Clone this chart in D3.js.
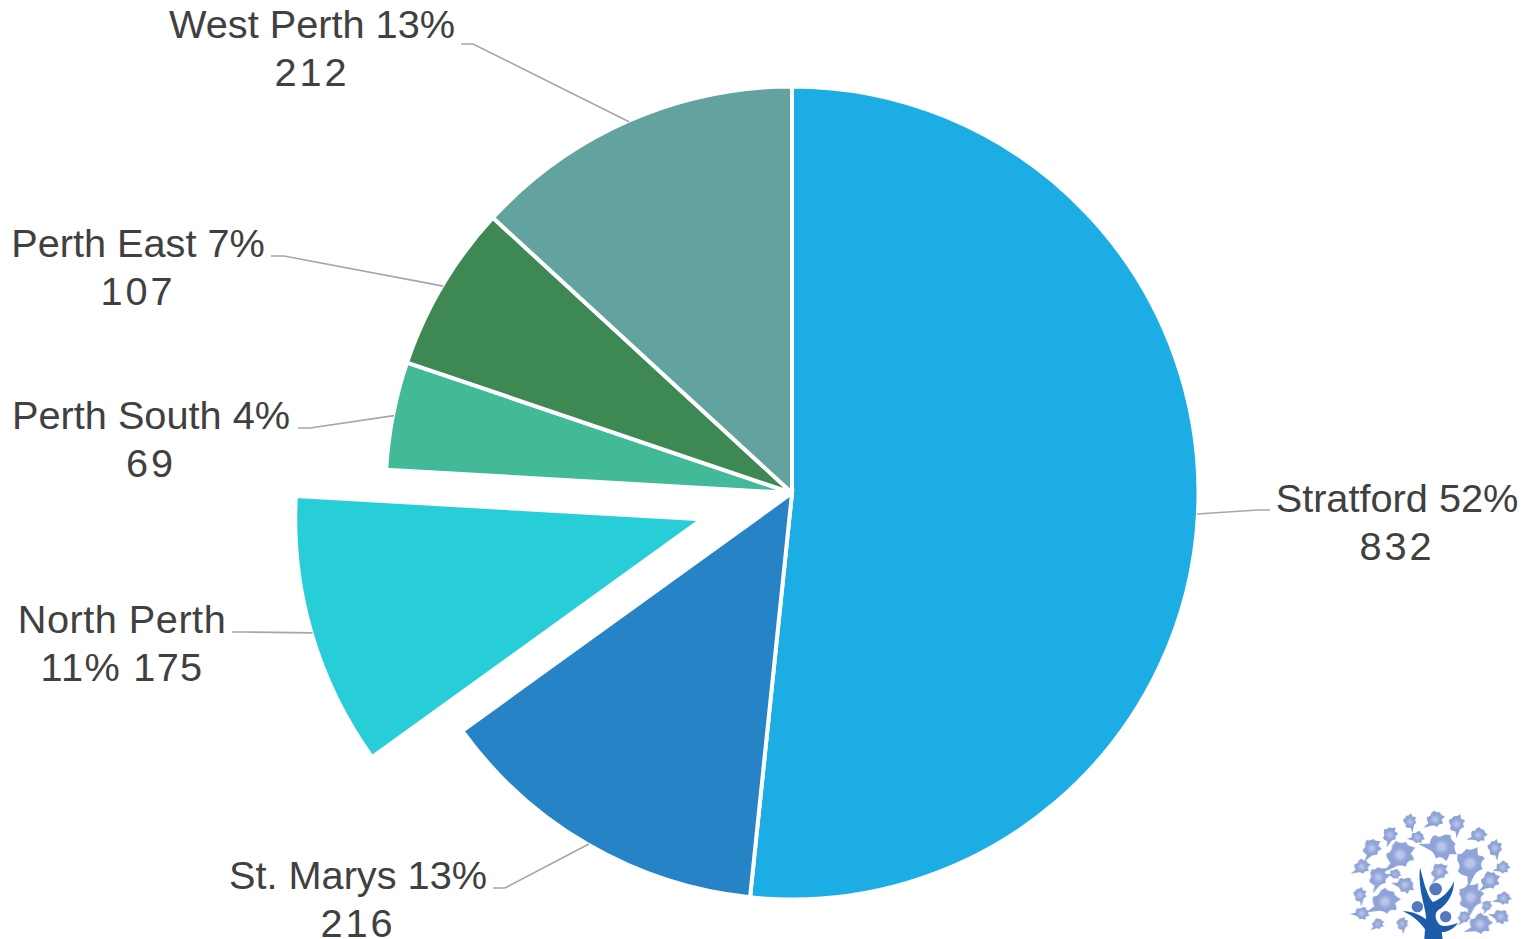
<!DOCTYPE html>
<html>
<head>
<meta charset="utf-8">
<script src="https://cdn.jsdelivr.net/npm/d3@7/dist/d3.min.js"></script>
<style>
html,body{margin:0;padding:0;background:#fff;overflow:hidden}
svg{display:block}
text{font-family:"Liberation Sans",Arial,sans-serif;font-size:39.7px;fill:#404040}
</style>
</head>
<body>
<svg id="chart" width="1527" height="939"></svg>
<script>
// Population by municipality
const areas = ["Stratford", "St. Marys", "North Perth", "Perth South", "Perth East", "West Perth"];
const counts = [832, 216, 175, 69, 107, 212];
const shares = ["52%", "13%", "11%", "4%", "7%", "13%"];
const sliceColors = ["#1CADE4", "#2683C6", "#27CED7", "#42BA97", "#3E8853", "#62A39F"];
const pulledOut = ["North Perth"];

// Callout placement: text centre, first baseline, and the leader's elbow and tail.
const callouts = {
  "Stratford":   {x: 1397, y: 512, lines: ["Stratford 52%", "832"],     tail: [1270, 510], elbow: [1258, 510]},
  "St. Marys":   {x: 358,  y: 889, lines: ["St. Marys 13%", "216"],     tail: [493, 888],  elbow: [505, 888]},
  "North Perth": {x: 122,  y: 633, lines: ["North Perth", "11% 175"],   tail: [232, 632],  elbow: [244, 632]},
  "Perth South": {x: 151,  y: 429, lines: ["Perth South 4%", "69"],     tail: [298, 428],  elbow: [310, 428]},
  "Perth East":  {x: 138,  y: 257, lines: ["Perth East 7%", "107"],     tail: [271, 256],  elbow: [284, 256]},
  "West Perth":  {x: 312,  y: 38,  lines: ["West Perth 13%", "212"],    tail: [461, 44],   elbow: [473, 44]}
};

const cx = 792, cy = 493, radius = 406.5, pull = 94;
const svg = d3.select("#chart");

const table = areas.map((a, i) => ({area: a, count: counts[i], share: shares[i], color: sliceColors[i]}));
const pie = d3.pie().value(d => d.count).sort(null);
const arc = d3.arc().innerRadius(0).outerRadius(radius);
const arcs = pie(table);

const offsetOf = d => {
  if (!pulledOut.includes(d.data.area)) return [0, 0];
  const mid = (d.startAngle + d.endAngle) / 2;
  return [pull * Math.sin(mid), -pull * Math.cos(mid)];
};

const plot = svg.append("g").attr("transform", `translate(${cx},${cy})`);

plot.selectAll("path.slice").data(arcs).join("path")
  .attr("class", "slice")
  .attr("d", arc)
  .attr("transform", d => `translate(${offsetOf(d)})`)
  .attr("fill", d => d.data.color)
  .attr("stroke", "#fff")
  .attr("stroke-width", 4)
  .attr("stroke-linejoin", "miter");

// Leader lines run from the middle of the slice rim through an elbow to the text.
const leader = d3.line();
svg.append("g").selectAll("path").data(arcs).join("path")
  .attr("fill", "none")
  .attr("stroke", "#A6A6A6")
  .attr("stroke-width", 1.6)
  .attr("d", d => {
    const c = callouts[d.data.area];
    const a = (d.startAngle + d.endAngle) / 2;
    const [ox, oy] = offsetOf(d);
    const rim = [cx + ox + (radius - 1) * Math.sin(a), cy + oy - (radius - 1) * Math.cos(a)];
    return leader([rim, c.elbow, c.tail]);
  });

// Figures run wider than letters in these callouts, so digit lines get extra tracking.
const tracking = t => /^\d+$/.test(t) ? 3 : /^\d+%/.test(t) ? 1.3 : t === "North Perth" ? 0.5 : 0;
const labels = svg.append("g").selectAll("text").data(arcs).join("text")
  .attr("text-anchor", "middle");
labels.selectAll("tspan").data(d => {
    const c = callouts[d.data.area];
    return c.lines.map((t, i) => ({t, x: c.x, y: c.y + i * 48}));
  }).join("tspan")
  .attr("x", d => d.x).attr("y", d => d.y)
  .attr("letter-spacing", d => tracking(d.t))
  .text(d => d.t);

// Emblem in the lower right corner: a tree of leaves above a figure with raised arms.
const leaves = [[210,65,18],[285,58,22],[350,72,22],[415,105,20],[150,105,20],[232,112,17],[95,145,24],
  [305,140,36],[180,165,36],[465,145,20],[65,200,20],[390,190,38],[488,202,17],[115,232,26],[165,222,14],
  [298,215,22],[195,255,22],[450,242,24],[60,285,18],[135,305,34],[392,292,34],[490,295,18],[440,318,14],
  [65,340,18],[372,352,16],[482,350,20],[113,372,15],[187,372,16],[420,372,28]];
const leafPath = "M-.2,-1 C.1,-.7 .3,-.9 .5,-.85 C.5,-.6 .9,-.5 1.1,-.45 L.75,-.05 C.9,.2 1,.3 .9,.45 C.6,.4 .45,.5 .35,.85 C.1,.7 -.2,.7 -.4,.8 L-1.2,1.1 L-.7,.5 C-.9,.2 -1,0 -.9,-.2 C-.7,-.2 -.5,-.4 -.5,-.7 Z";
const defs = svg.append("defs");
defs.append("filter").attr("id", "soft").append("feGaussianBlur").attr("stdDeviation", 2);
defs.append("filter").attr("id", "softer").append("feGaussianBlur").attr("stdDeviation", 4);
defs.append("filter").attr("id", "crisp").append("feGaussianBlur").attr("stdDeviation", 1);

const emblem = svg.append("g").attr("transform", "translate(1340,800) scale(0.3333)");
emblem.append("g").attr("filter", "url(#soft)").selectAll("path").data(leaves).join("path")
  .attr("d", leafPath)
  .attr("transform", (d, i) => `translate(${d[0]},${d[1]}) rotate(${(i * 67) % 120 - 60}) scale(${d[2] * 1.2})`)
  .attr("fill", "#8FA3D8");
emblem.append("g").attr("filter", "url(#softer)").selectAll("circle").data(leaves).join("circle")
  .attr("cx", d => d[0]).attr("cy", d => d[1]).attr("r", d => d[2] * 0.45)
  .attr("fill", "#B9C6E8");
const figure = emblem.append("g").attr("filter", "url(#crisp)");
figure.append("path")
  .attr("d", "M240,203 C252,245 258,280 278,306 C300,300 330,275 342,243 C342,285 320,315 295,330 C282,340 285,360 300,375 C315,382 335,375 354,368 C340,390 320,395 305,397 L308,417 L253,417 L255,388 C240,365 215,345 188,334 C215,332 240,345 258,358 C262,335 232,270 240,203 Z")
  .attr("fill", "#1B5CAB");
figure.selectAll("circle").data([[287,267,19],[232,320,17],[317,350,17]]).join("circle")
  .attr("cx", d => d[0]).attr("cy", d => d[1]).attr("r", d => d[2])
  .attr("fill", "#5479BE");
</script>
</body>
</html>
